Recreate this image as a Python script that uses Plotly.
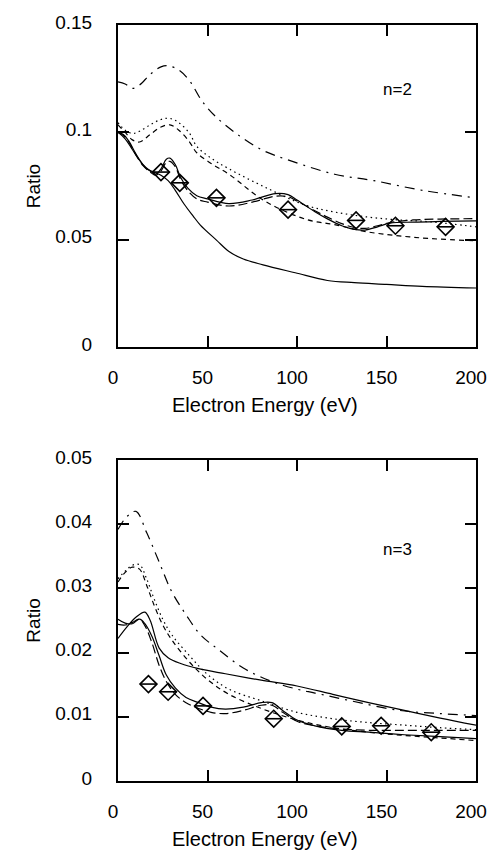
import plotly.graph_objects as go
from plotly.subplots import make_subplots

# ---- n=2 panel ----
e_a2 = [0, 3, 6, 10, 14, 18, 21, 24, 27, 29, 32, 35, 39, 44, 50, 62, 75, 88, 95, 100,
        110, 117, 125, 132, 138, 145, 152, 165, 180, 200]
solid_a2 = [0.1, 0.099, 0.096, 0.09, 0.085, 0.082, 0.0805, 0.083, 0.0875, 0.088, 0.085,
            0.079, 0.074, 0.0705, 0.069, 0.0668, 0.0685, 0.0715, 0.071, 0.0685, 0.063,
            0.0597, 0.0565, 0.0548, 0.0545, 0.056, 0.0577, 0.0582, 0.0585, 0.0588]
longdash_b2 = [0.1, 0.0985, 0.0955, 0.0895, 0.0845, 0.0815, 0.08, 0.082, 0.086, 0.0865,
               0.084, 0.078, 0.0728, 0.069, 0.0675, 0.0657, 0.0675, 0.0703, 0.07, 0.068,
               0.0635, 0.0605, 0.0575, 0.0557, 0.0553, 0.0565, 0.058, 0.0592, 0.0596, 0.0598]

e_c2 = [0, 4, 8, 12, 16, 20, 24, 28, 32, 37, 42, 46, 55, 62, 70, 81, 99, 117, 132, 150, 170, 200]
solid_c2 = [0.1, 0.097, 0.092, 0.087, 0.083, 0.0815, 0.08, 0.0775, 0.073, 0.0665, 0.061,
            0.0568, 0.0498, 0.0445, 0.041, 0.0383, 0.0346, 0.031, 0.03, 0.0292, 0.0283, 0.0275]

e_d2 = [0, 4, 8, 12, 18, 24, 28, 34, 40, 47, 55, 66, 80, 97, 121, 143, 170, 200]
dashdot_d2 = [0.1235, 0.1225, 0.1205, 0.122, 0.127, 0.1305, 0.131, 0.129, 0.124, 0.1145,
              0.107, 0.0995, 0.092, 0.0866, 0.0805, 0.0775, 0.073, 0.0695]

e_ef2 = [0, 4, 8, 12, 18, 24, 29, 34, 40, 44, 52, 62, 82, 105, 121, 139, 157, 175, 200]
dot_e2 = [0.1045, 0.101, 0.0995, 0.1005, 0.1035, 0.106, 0.1065, 0.1045, 0.0995, 0.0935,
          0.088, 0.083, 0.0745, 0.066, 0.0629, 0.0606, 0.0592, 0.0583, 0.056]
dash_f2 = [0.1035, 0.1, 0.0965, 0.0955, 0.099, 0.1025, 0.1035, 0.101, 0.0955, 0.0905,
           0.0855, 0.0805, 0.068, 0.0595, 0.057, 0.0537, 0.0518, 0.0505, 0.0495]

exp_e2 = [24, 34.5, 55, 95, 133, 155, 183]
exp_r2 = [0.0815, 0.0765, 0.0695, 0.064, 0.059, 0.0565, 0.056]

# ---- n=3 panel ----
e_h3 = [0, 4, 8, 12, 15, 19, 23, 27, 32, 38, 45, 52, 60, 70, 80, 86, 92, 100, 110, 125,
        140, 160, 180, 200]
solid_h3 = [0.0252, 0.0246, 0.0245, 0.0252, 0.0245, 0.0225, 0.0195, 0.0165, 0.0145, 0.013,
            0.0122, 0.0115, 0.0112, 0.0115, 0.0122, 0.0122, 0.011, 0.0095, 0.0086, 0.0079,
            0.0076, 0.0072, 0.0069, 0.0066]
longdash_i3 = [0.0244, 0.0243, 0.0247, 0.0252, 0.0242, 0.0215, 0.018, 0.0155, 0.0135, 0.0122,
               0.0113, 0.0107, 0.0105, 0.011, 0.0118, 0.0118, 0.0107, 0.0093, 0.0086, 0.0081,
               0.0079, 0.0079, 0.0079, 0.0079]

e_g3 = [0, 5, 10, 15, 18, 23, 28, 35, 45, 60, 80, 100, 120, 140, 160, 180, 200]
solid_g3 = [0.0222, 0.024, 0.0255, 0.0263, 0.025, 0.0207, 0.0192, 0.0183, 0.0175, 0.0167,
            0.0157, 0.0148, 0.0135, 0.0122, 0.011, 0.0098, 0.0087]

e_d3 = [0, 5, 10, 16, 23, 30, 38, 46, 56, 70, 85, 100, 110, 130, 157, 180, 200]
dashdot_d3 = [0.0392, 0.0412, 0.042, 0.0387, 0.0341, 0.0295, 0.0259, 0.0228, 0.0205, 0.0176,
              0.0156, 0.0143, 0.0137, 0.0125, 0.011, 0.0105, 0.0102]

e_ef3 = [0, 4, 8, 12, 16, 20, 25, 30, 40, 50, 62, 80, 100, 120, 140, 160, 180, 200]
dot_e3 = [0.0315, 0.0327, 0.0336, 0.0337, 0.0315, 0.0285, 0.0252, 0.0228, 0.0195, 0.0166,
          0.0143, 0.0125, 0.0107, 0.0097, 0.0091, 0.0087, 0.0083, 0.008]
dash_f3 = [0.031, 0.0325, 0.0333, 0.033, 0.0305, 0.0275, 0.0243, 0.022, 0.0185, 0.0158,
           0.0135, 0.0113, 0.0095, 0.0083, 0.0076, 0.0071, 0.0067, 0.0063]

exp_e3 = [17, 28, 47.5, 87, 125, 147, 175]
exp_r3 = [0.0151, 0.0139, 0.0117, 0.0097, 0.0085, 0.0086, 0.0076]

x_ticks = [0, 50, 100, 150, 200]
y_ticks2 = [0, 0.05, 0.1, 0.15]
y_ticks3 = [0, 0.01, 0.02, 0.03, 0.04, 0.05]

fig = make_subplots(rows=2, cols=1)

def line(x, y, dash, row):
    fig.add_trace(go.Scatter(x=x, y=y, mode="lines", line_shape="spline",
                             line=dict(color="black", width=1.2, dash=dash),
                             showlegend=False), row=row, col=1)

def points(x, y, row):
    fig.add_trace(go.Scatter(x=x, y=y, mode="markers", showlegend=False,
                             marker=dict(symbol="diamond-open", size=13, color="black",
                                         line=dict(width=1.6, color="black"))), row=row, col=1)
    fig.add_trace(go.Scatter(x=x, y=y, mode="markers", showlegend=False,
                             marker=dict(symbol="line-ew-open", size=12, color="black",
                                         line=dict(width=1.6, color="black"))), row=row, col=1)

LONG = "9px,4px"
SHORT = "5px,4px"
DOT = "1.5px,3.5px"
DASHDOT = "10px,6px,2px,6px"

line(e_d2, dashdot_d2, DASHDOT, 1)
line(e_ef2, dot_e2, DOT, 1)
line(e_ef2, dash_f2, SHORT, 1)
line(e_c2, solid_c2, "solid", 1)
line(e_a2, longdash_b2, LONG, 1)
line(e_a2, solid_a2, "solid", 1)
points(exp_e2, exp_r2, 1)

line(e_d3, dashdot_d3, DASHDOT, 2)
line(e_ef3, dot_e3, DOT, 2)
line(e_ef3, dash_f3, SHORT, 2)
line(e_g3, solid_g3, "solid", 2)
line(e_h3, longdash_i3, LONG, 2)
line(e_h3, solid_h3, "solid", 2)
points(exp_e3, exp_r3, 2)

axis_style = dict(showline=True, linewidth=2, linecolor="black", mirror="ticks",
                  ticks="inside", ticklen=11, tickwidth=2, tickcolor="black",
                  showgrid=False, zeroline=False)
fig.update_xaxes(range=[0, 200], tickvals=x_ticks, ticklabelstandoff=12,
                 ticklabelshift=-5, **axis_style)
fig.update_yaxes(ticklabelstandoff=20, ticklabelshift=-3, **axis_style)
fig.update_yaxes(range=[0, 0.15], tickvals=y_ticks2, domain=[0.574, 1], row=1, col=1)
fig.update_yaxes(range=[0, 0.05], tickvals=y_ticks3, domain=[0, 0.4246], row=2, col=1)

font = dict(family="Liberation Sans, Arial, sans-serif", size=19, color="black")
annotations = [
    dict(text="Electron Energy (eV)", xref="x", yref="paper", x=82, y=0.4967),
    dict(text="Electron Energy (eV)", xref="x2", yref="paper", x=82, y=-0.0773),
    dict(text="Ratio", xref="paper", yref="paper", x=-0.237, y=0.787, textangle=-90),
    dict(text="Ratio", xref="paper", yref="paper", x=-0.237, y=0.2123, textangle=-90),
    dict(text="n=2", xref="x", yref="y", x=156, y=0.12, font=dict(size=17)),
    dict(text="n=3", xref="x2", yref="y2", x=156, y=0.036, font=dict(size=17)),
]
for a in annotations:
    a.update(showarrow=False, xanchor="center", yanchor="middle")
annotations[0]["font"] = dict(size=20)
annotations[1]["font"] = dict(size=20)

fig.update_layout(width=499, height=851, margin=dict(l=118, r=14, t=18, b=70),
                  paper_bgcolor="white", plot_bgcolor="white", font=font,
                  annotations=annotations)

# drop the page's default body margin so the figure sits at the window corner
fig.write_html("out.html", config={"displayModeBar": False},
               post_script="document.body.style.margin='0px';")
